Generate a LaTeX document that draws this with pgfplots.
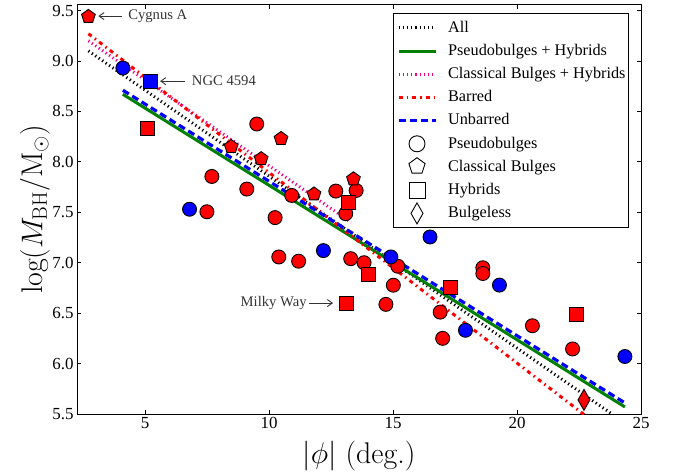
\documentclass[border=0pt]{standalone}
\usepackage{fix-cm}
\usepackage{fontspec}
\usepackage{pgfplots}
\pgfplotsset{compat=1.18}
\usetikzlibrary{arrows.meta}
\newfontfamily\tms{Liberation Serif}
\definecolor{mygreen}{RGB}{0,128,0}

\pgfplotstableread{
x y
2.71 9.44
10.48 8.23
8.47 8.15
9.68 8.03
11.81 7.68
13.40 7.83
}\redpent

\pgfplotstableread{
x y
9.50 8.375
7.69 7.855
9.10 7.73
7.49 7.505
10.24 7.447
10.91 7.667
12.69 7.71
13.09 7.486
10.39 7.057
11.19 7.015
13.29 7.04
13.51 7.716
13.83 7.00
15.19 6.965
15.01 6.777
14.71 6.587
18.62 6.95
18.62 6.893
16.90 6.51
17.00 6.25
20.62 6.375
22.24 6.145
}\redcirc

\pgfplotstableread{
x y
5.09 8.33
13.21 7.595
13.11 6.60
14.00 6.886
17.30 6.75
22.41 6.49
}\redsq

\pgfplotstableread{
x y
22.70 5.64
}\reddia

\pgfplotstableread{
x y
4.10 8.93
6.79 7.53
12.19 7.12
16.49 7.255
14.91 7.057
19.29 6.778
17.92 6.33
24.35 6.07
}\bluecirc

\pgfplotstableread{
x y
5.20 8.80
}\bluesq

\begin{document}
\begin{tikzpicture}
\begin{axis}[
  at={(0,0)}, anchor=south west,
  scale only axis, width=564bp, height=409bp,
  xmin=2.25, xmax=25, ymin=5.5, ymax=9.555,
  xtick={5,10,15,20,25}, ytick={5.5,6,6.5,7,7.5,8,8.5,9,9.5},
  tick align=inside, major tick length=4bp,
  xtick pos=both, ytick pos=both,
  xticklabel pos=lower, yticklabel pos=left,
  axis line style={line width=1bp},
  every tick/.style={black, line width=0.8bp},
  tick label style={font=\tms\fontsize{17}{20}\selectfont},
  /pgf/number format/assume math mode=true,
  y tick label style={/pgf/number format/.cd, fixed, fixed zerofill, precision=1},
  xlabel={\fontsize{30}{34}\selectfont $|\phi|$ (deg.)},
  xlabel style={at={(axis description cs:0.5,0)}, anchor=center, yshift=-42bp},
  legend style={at={(rel axis cs:1,1)}, anchor=north east, xshift=-12bp, yshift=-8bp,
    draw=black, line width=1bp, fill=white,
    font=\tms\fontsize{16.3}{19}\selectfont,
    row sep=8.6bp, column sep=11bp, inner xsep=3bp, inner ysep=7bp,
    nodes={inner sep=0pt, text height=11.6bp, text depth=3bp}},
  legend cell align=left,
  legend image code/.code={\draw[#1] (0bp,0bp) -- (37bp,0bp);},
]
% fit lines
\addplot[black, line width=3bp, dash pattern=on 1.2bp off 3bp] coordinates {(2.71,9.10) (23.8,5.505)};
\addlegendentry{All}
\addplot[mygreen, line width=3bp] coordinates {(4.1,8.67) (24.35,5.57)};
\addlegendentry{Pseudobulges + Hybrids}
\addplot[magenta, line width=3bp, dash pattern=on 1.2bp off 3bp] coordinates {(2.71,9.20) (13.3,7.40)};
\addlegendentry{Classical Bulges + Hybrids}
\addplot[red, line width=3bp, dash pattern=on 4bp off 4bp on 1.5bp off 4bp] coordinates {(2.71,9.27) (22.7,5.495)};
\addlegendentry{Barred}
\addplot[blue, line width=3.2bp, dash pattern=on 7bp off 4bp] coordinates {(4.1,8.71) (24.35,5.61)};
\addlegendentry{Unbarred}

\addlegendimage{legend image code/.code={\draw[opacity=0, line width=0.1bp] (0bp,0bp) -- (37bp,0bp);\draw[overlay, black, fill=white, line width=0.9bp] (18.5bp,0bp) circle (8bp);}}
\addlegendentry{Pseudobulges}
\addlegendimage{legend image code/.code={\draw[opacity=0, line width=0.1bp] (0bp,0bp) -- (37bp,0bp);\draw[overlay, black, fill=white, line width=0.9bp, shift={(18.5bp,0.8bp)}] (90:8.5bp) -- (162:8.5bp) -- (234:8.5bp) -- (306:8.5bp) -- (18:8.5bp) -- cycle;}}
\addlegendentry{Classical Bulges}
\addlegendimage{legend image code/.code={\draw[opacity=0, line width=0.1bp] (0bp,0bp) -- (37bp,0bp);\draw[overlay, black, fill=white, line width=0.9bp] (10.5bp,-8bp) rectangle (26.5bp,8bp);}}
\addlegendentry{Hybrids}
\addlegendimage{legend image code/.code={\draw[opacity=0, line width=0.1bp] (0bp,0bp) -- (37bp,0bp);\draw[overlay, black, fill=white, line width=0.9bp] (18.5bp,10.5bp) -- (24.5bp,0bp) -- (18.5bp,-10.5bp) -- (12.5bp,0bp) -- cycle;}}
\addlegendentry{Bulgeless}

% data points
\addplot[forget plot, only marks, mark=*, mark size=7bp, mark options={draw=black, fill=red, line width=0.9bp}] table {\redcirc};
\addplot[forget plot, only marks, mark=*, mark size=7bp, mark options={draw=black, fill=blue, line width=0.9bp}] table {\bluecirc};
\addplot[forget plot, only marks, mark=pentagon*, mark size=7.2bp, mark options={draw=black, fill=red, line width=0.9bp}] table {\redpent};
\addplot[forget plot, only marks, mark=square*, mark size=7bp, mark options={draw=black, fill=red, line width=0.9bp}] table {\redsq};
\addplot[forget plot, only marks, mark=square*, mark size=7bp, mark options={draw=black, fill=blue, line width=0.9bp}] table {\bluesq};
\addplot[forget plot, only marks, mark=diamond*, mark size=10.5bp, mark options={draw=black, fill=red, line width=0.9bp, xscale=0.76}] table {\reddia};

% annotations
\node[anchor=west, inner sep=0pt, text=black!80, font=\tms\fontsize{14.7}{17}\selectfont] at (axis cs:4.31,9.445) {Cygnus A};
\draw[black!80, line width=0.9bp, -{Straight Barb[length=5bp, width=7bp]}] (axis cs:4.06,9.445) -- (axis cs:3.11,9.445);
\node[anchor=west, inner sep=0pt, text=black!80, font=\tms\fontsize{14.7}{17}\selectfont] at (axis cs:6.88,8.80) {NGC 4594};
\draw[black!80, line width=0.9bp, -{Straight Barb[length=5bp, width=7bp]}] (axis cs:6.61,8.80) -- (axis cs:5.60,8.80);
\node[anchor=east, inner sep=0pt, text=black!80, font=\tms\fontsize{14.7}{17}\selectfont] at (axis cs:11.52,6.60) {Milky Way};
\draw[black!80, line width=0.9bp, -{Straight Barb[length=5bp, width=7bp]}] (axis cs:11.61,6.60) -- (axis cs:12.58,6.60);
\end{axis}
% y label
\node[rotate=90, anchor=center, inner sep=0pt, font=\fontsize{30}{34}\selectfont] at (-42bp,204.5bp) {$\log(M_{\mathrm{BH}}/\mathrm{M}_\odot)$};
\pgfresetboundingbox
\path[use as bounding box] (-77bp,-61bp) rectangle (603bp,414bp);
\end{tikzpicture}
\end{document}
